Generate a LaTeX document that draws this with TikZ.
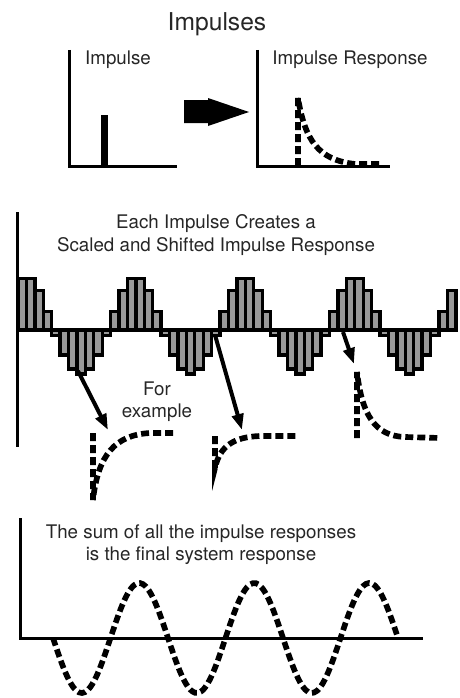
\documentclass[tikz,border=0pt]{standalone}
\usepackage{fontspec}
\setmainfont{TeX Gyre Heros}
\usepackage{tikz}
\usetikzlibrary{arrows.meta}

\tikzset{
	axis/.style={line width=0.9mm},
	bar/.style={draw=black,fill=black!40,line width=1mm},
	resp/.style={line width=1.7mm,dash pattern=on 2.4mm off 1.2mm},
	pulse/.style={line width=1.2mm,-{Triangle[length=4.8mm,width=3.4mm]}},
	lbl/.style={text=black!85,font=\fontsize{16}{19}\selectfont,align=center,inner sep=0pt}
}

\begin{document}
\begin{tikzpicture}[x=0.3mm,y=-0.3mm]
	\useasboundingbox (0,0) rectangle (459,698);

	% impulse and its response
	\node[lbl,font=\fontsize{21}{25}\selectfont] (title) at (217,24) {Impulses};
	\draw[axis] (69,50) -- (69,166) -- (177,166);
	\fill (101,115) rectangle (108,166);
	\node[lbl] (impulse) at (118,60) {Impulse};
	\fill (184,100) -- (208,100) -- (208,98) -- (249,112) -- (208,126) -- (208,123) -- (184,123) -- cycle;
	\draw[axis] (257,50) -- (257,166) -- (390,166);
	\node[lbl] (imprsp) at (350,60) {Impulse Response};
	\draw[resp] (298,166) -- (298,98) .. controls (305,140) and (318,160) .. (355,164) -- (382,164);

	% sampled input
	\node[lbl] (each) at (216,235) {Each Impulse Creates a\\Scaled and Shifted Impulse Response};
	\foreach \k in {0,...,51}{
		\pgfmathsetmacro\v{-cos(360*(\k-7)/13)}
		\pgfmathsetmacro\h{\v>0 ? 53*\v : 44*\v}
		\draw[bar] ({18+8.42*\k},330) rectangle ({18+8.42*(\k+1)},{330-\h});
	}
	\draw[axis] (17,212) -- (17,447);

	\coordinate (s1) at (78,371);
	\coordinate (e1) at (108,430);
	\coordinate (s2) at (215,335);
	\coordinate (e2) at (242,430);
	\coordinate (s3) at (343,332);
	\coordinate (e3) at (354,364);
	\draw[pulse] (s1) -- (e1);
	\draw[pulse] (s2) -- (e2);
	\draw[pulse] (s3) -- (e3);

	\node[lbl] (forex) at (157,402) {For\\example};

	\draw[resp] (93,433) -- (93,500) .. controls (98,455) and (115,435) .. (150,433) -- (177,433);
	\draw[resp] (215,436) -- (215,468) .. controls (220,445) and (235,437) .. (260,436) -- (298,436);
	\draw[resp] (357,438) -- (357,372) .. controls (362,415) and (375,436) .. (405,437) -- (440,438);

	% output
	\node[lbl] (sumtxt) at (201,545) {The sum of all the impulse responses\\is the final system response};
	\draw[axis] (20,518) -- (20,638) -- (423,638);
	\draw[resp] plot[domain=53:398,samples=120,smooth] (\x,{638+55*sin((\x-53)/115*360)});
\end{tikzpicture}
\end{document}
